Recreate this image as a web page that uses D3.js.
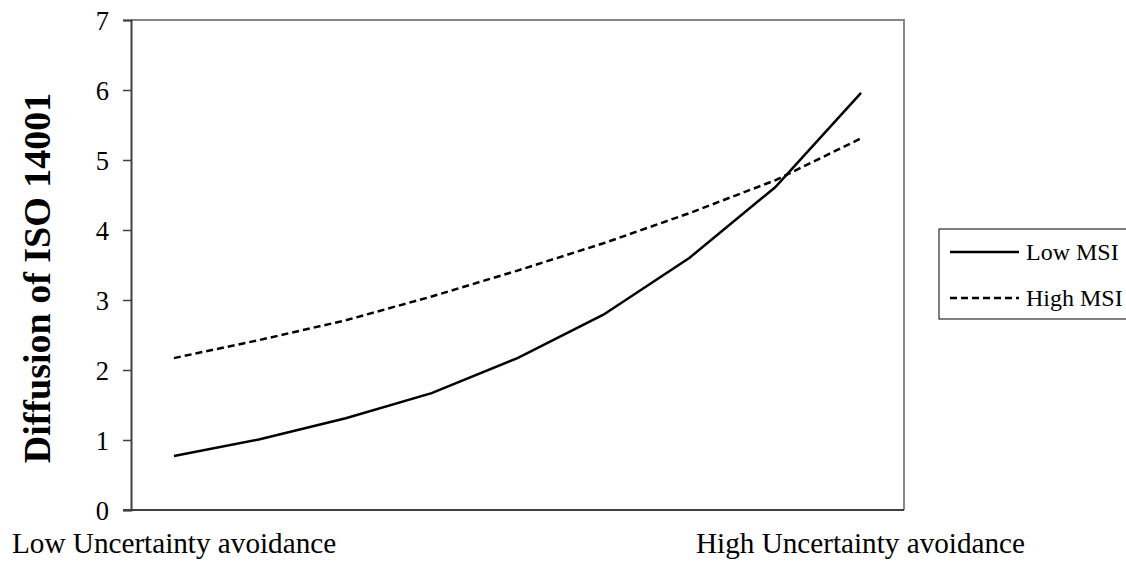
<!DOCTYPE html>
<html>
<head>
<meta charset="utf-8">
<script src="https://cdn.jsdelivr.net/npm/d3@7"></script>
<style>
  html, body { margin: 0; padding: 0; background: #fff; }
  svg { display: block; font-family: "Liberation Serif", "Times New Roman", serif; }
</style>
</head>
<body>
<svg id="chart" width="1126" height="563"></svg>
<script>
// ---- data ----
const points = [1, 2, 3, 4, 5, 6, 7, 8, 9];
const lowMSI  = [0.77, 1.01, 1.31, 1.67, 2.17, 2.79, 3.60, 4.61, 5.96];
const highMSI = [2.17, 2.43, 2.71, 3.05, 3.42, 3.81, 4.24, 4.71, 5.31];
const seriesNames = ["Low MSI", "High MSI"];
const yTicks = [0, 1, 2, 3, 4, 5, 6, 7];
const xEndLabels = ["Low Uncertainty avoidance", "High Uncertainty avoidance"];
const yTitle = "Diffusion of ISO 14001";

// ---- layout ----
const svg = d3.select("#chart");
const plot = { left: 131, top: 20, right: 904, bottom: 510 };

const x = d3.scalePoint().domain(points).range([plot.left, plot.right]).padding(0.5);
const y = d3.scaleLinear().domain([0, 7]).range([plot.bottom, plot.top]);

// plot frame (top/right in gray)
svg.append("path")
  .attr("d", `M${plot.left},${plot.top}H${plot.right}V${plot.bottom}`)
  .attr("fill", "none").attr("stroke", "#868686").attr("stroke-width", 2);

// y axis
const yAxis = svg.append("g")
  .attr("transform", `translate(${plot.left},0)`)
  .call(d3.axisLeft(y).tickValues(yTicks).tickSize(8).tickPadding(14).tickFormat(d3.format("d")));
yAxis.attr("font-family", null);
yAxis.select(".domain").attr("stroke", "#404040").attr("stroke-width", 2);
yAxis.selectAll(".tick line").attr("stroke", "#404040").attr("stroke-width", 1.5);
yAxis.selectAll(".tick text")
  .attr("font-family", "Liberation Serif, serif")
  .attr("font-size", 26.5).attr("fill", "#000").attr("dy", "0.35em");

// x axis baseline
const xAxis = svg.append("g")
  .attr("transform", `translate(0,${plot.bottom})`)
  .call(d3.axisBottom(x).tickValues([]).tickSizeOuter(0));
xAxis.select(".domain").attr("stroke", "#404040").attr("stroke-width", 2)
  .attr("d", `M${plot.left - 8},0H${plot.right}`);

// x end labels
svg.append("text").text(xEndLabels[0])
  .attr("x", 12).attr("y", 553).attr("font-size", 29.2).attr("fill", "#000");
svg.append("text").text(xEndLabels[1])
  .attr("x", 1025).attr("y", 553).attr("text-anchor", "end").attr("font-size", 29.2).attr("fill", "#000");

// y title
svg.append("text").text(yTitle)
  .attr("transform", `translate(50,278) rotate(-90)`)
  .attr("text-anchor", "middle")
  .attr("font-size", 38).attr("font-weight", "bold").attr("fill", "#000");

// lines
const line = d3.line().x((d, i) => x(points[i])).y(d => y(d));
svg.append("path").datum(lowMSI).attr("d", line)
  .attr("fill", "none").attr("stroke", "#000").attr("stroke-width", 2.5);
svg.append("path").datum(highMSI).attr("d", line)
  .attr("fill", "none").attr("stroke", "#000").attr("stroke-width", 2.5)
  .attr("stroke-dasharray", "7,4");

// legend
const lg = svg.append("g");
lg.append("rect").attr("x", 939).attr("y", 229).attr("width", 200).attr("height", 90)
  .attr("fill", "#fff").attr("stroke", "#000").attr("stroke-width", 1);
const legendY = [252, 298];
seriesNames.forEach((name, i) => {
  lg.append("line").attr("x1", 950).attr("x2", 1019).attr("y1", legendY[i]).attr("y2", legendY[i])
    .attr("stroke", "#000").attr("stroke-width", 2.5)
    .attr("stroke-dasharray", i === 1 ? "7,4" : null);
  lg.append("text").text(name).attr("x", 1026).attr("y", legendY[i]).attr("dy", "0.35em")
    .attr("font-size", 24).attr("fill", "#000");
});
</script>
</body>
</html>
